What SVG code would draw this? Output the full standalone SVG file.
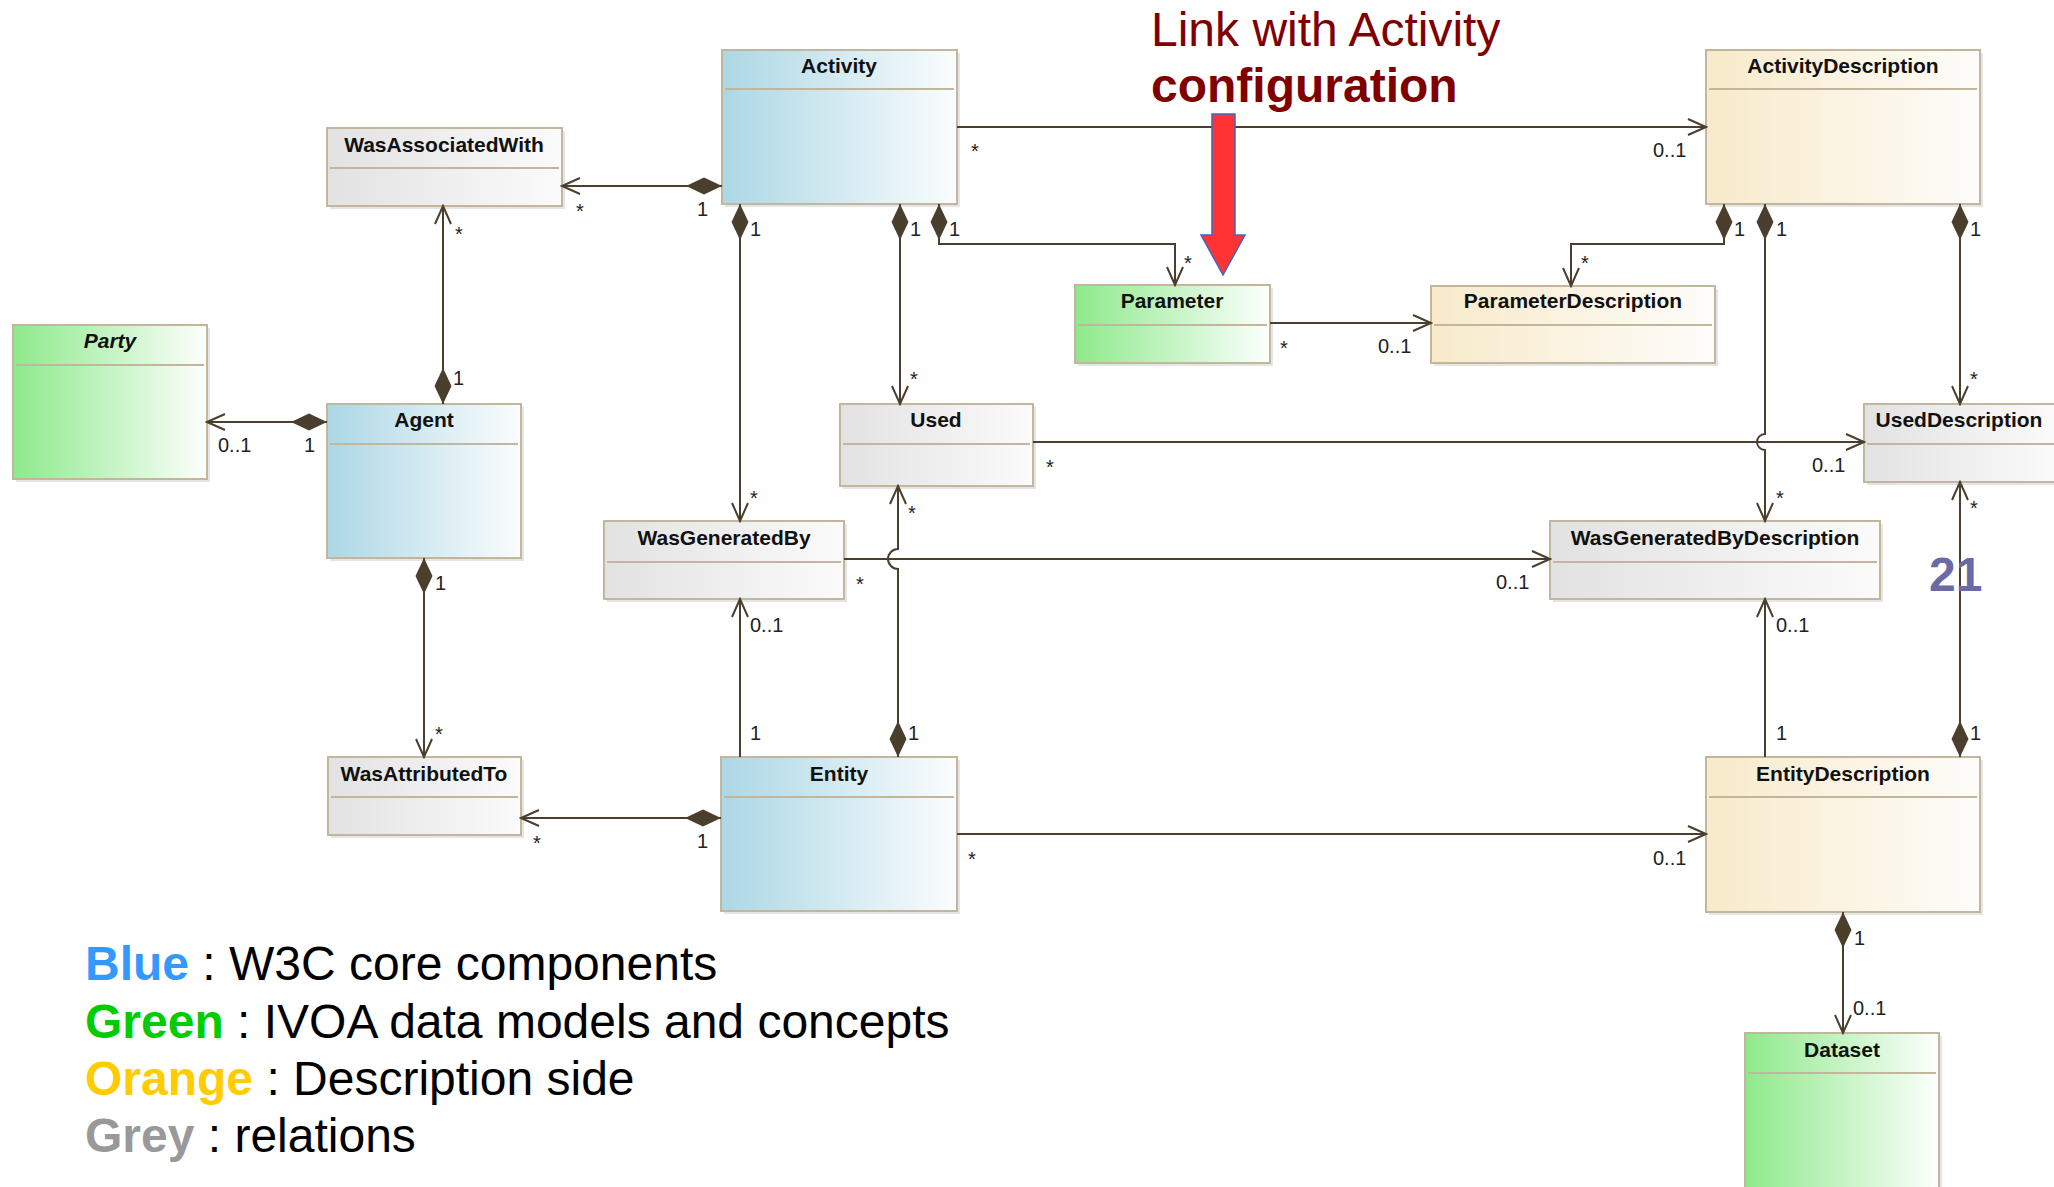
<svg xmlns="http://www.w3.org/2000/svg" width="2054" height="1187" viewBox="0 0 2054 1187">
  <defs>
    <linearGradient id="gBlue" x1="0" y1="0" x2="1" y2="0">
      <stop offset="0" stop-color="#acd7e5"/>
      <stop offset="1" stop-color="#fbfdfe"/>
    </linearGradient>
    <linearGradient id="gGreen" x1="0" y1="0" x2="1" y2="0">
      <stop offset="0" stop-color="#8ee98b"/>
      <stop offset="1" stop-color="#fdfffd"/>
    </linearGradient>
    <linearGradient id="gCream" x1="0" y1="0" x2="1" y2="0">
      <stop offset="0" stop-color="#f8eaca"/>
      <stop offset="1" stop-color="#fefdfb"/>
    </linearGradient>
    <linearGradient id="gGrey" x1="0" y1="0" x2="1" y2="0">
      <stop offset="0" stop-color="#e2e2e2"/>
      <stop offset="1" stop-color="#fbfbfb"/>
    </linearGradient>
    <marker id="arrow" viewBox="-20 -10 22 20" markerWidth="22" markerHeight="20" refX="0" refY="0" orient="auto" markerUnits="userSpaceOnUse">
      <path d="M-18,-8 L0,0 L-18,8" fill="none" stroke="#4a3f2c" stroke-width="2"/>
    </marker>
    <marker id="diamond" viewBox="0 -10 38 20" markerWidth="38" markerHeight="20" refX="0" refY="0" orient="auto" markerUnits="userSpaceOnUse">
      <path d="M0,0 L18,-8.5 L36,0 L18,8.5 Z" fill="#4a3f2c"/>
    </marker>
    <style>
      .box { stroke: #c2b69c; stroke-width: 2; }
      .shadow { fill: #000; opacity: 0.10; }
      .div { stroke: #c2b69c; stroke-width: 2; }
      .title { font-family: "Liberation Sans", Arial, sans-serif; font-weight: bold; font-size: 21px; text-anchor: middle; fill: #111; }
      .conn { stroke: #4a3f2c; stroke-width: 2; fill: none; }
      .arr { marker-end: url(#arrow); }
      .comp { marker-start: url(#diamond); }
      .mult { font-family: "Liberation Sans", Arial, sans-serif; font-size: 20px; fill: #222; }
      .legend { font-family: "Liberation Sans", Arial, sans-serif; font-size: 48px; fill: #000; }
    </style>
  </defs>

  <rect width="2054" height="1187" fill="#ffffff"/>

  <!-- classes -->
  <g id="Activity">
    <rect class="shadow" x="725" y="53" width="235" height="154"/>
    <rect class="box" x="722" y="50" width="235" height="154" fill="url(#gBlue)"/>
    <line class="div" x1="725" y1="89" x2="954" y2="89"/>
    <text class="title" x="839" y="73">Activity</text>
  </g>
  <g id="WasAssociatedWith">
    <rect class="shadow" x="330" y="131" width="235" height="78"/>
    <rect class="box" x="327" y="128" width="235" height="78" fill="url(#gGrey)"/>
    <line class="div" x1="330" y1="168" x2="559" y2="168"/>
    <text class="title" x="444" y="152">WasAssociatedWith</text>
  </g>
  <g id="Party">
    <rect class="shadow" x="16" y="328" width="194" height="154"/>
    <rect class="box" x="13" y="325" width="194" height="154" fill="url(#gGreen)"/>
    <line class="div" x1="16" y1="365" x2="204" y2="365"/>
    <text class="title" x="110" y="348" font-style="italic">Party</text>
  </g>
  <g id="Agent">
    <rect class="shadow" x="330" y="407" width="194" height="154"/>
    <rect class="box" x="327" y="404" width="194" height="154" fill="url(#gBlue)"/>
    <line class="div" x1="330" y1="444" x2="518" y2="444"/>
    <text class="title" x="424" y="427">Agent</text>
  </g>
  <g id="WasAttributedTo">
    <rect class="shadow" x="331" y="760" width="193" height="78"/>
    <rect class="box" x="328" y="757" width="193" height="78" fill="url(#gGrey)"/>
    <line class="div" x1="331" y1="797" x2="518" y2="797"/>
    <text class="title" x="424" y="781">WasAttributedTo</text>
  </g>
  <g id="Entity">
    <rect class="shadow" x="724" y="760" width="236" height="154"/>
    <rect class="box" x="721" y="757" width="236" height="154" fill="url(#gBlue)"/>
    <line class="div" x1="724" y1="797" x2="954" y2="797"/>
    <text class="title" x="839" y="781">Entity</text>
  </g>
  <g id="Used">
    <rect class="shadow" x="843" y="407" width="193" height="82"/>
    <rect class="box" x="840" y="404" width="193" height="82" fill="url(#gGrey)"/>
    <line class="div" x1="843" y1="444" x2="1030" y2="444"/>
    <text class="title" x="936" y="427">Used</text>
  </g>
  <g id="WasGeneratedBy">
    <rect class="shadow" x="607" y="524" width="240" height="78"/>
    <rect class="box" x="604" y="521" width="240" height="78" fill="url(#gGrey)"/>
    <line class="div" x1="607" y1="562" x2="841" y2="562"/>
    <text class="title" x="724" y="545">WasGeneratedBy</text>
  </g>
  <g id="Parameter">
    <rect class="shadow" x="1078" y="288" width="195" height="78"/>
    <rect class="box" x="1075" y="285" width="195" height="78" fill="url(#gGreen)"/>
    <line class="div" x1="1078" y1="325" x2="1267" y2="325"/>
    <text class="title" x="1172" y="308">Parameter</text>
  </g>
  <g id="ParameterDescription">
    <rect class="shadow" x="1434" y="289" width="284" height="77"/>
    <rect class="box" x="1431" y="286" width="284" height="77" fill="url(#gCream)"/>
    <line class="div" x1="1434" y1="325" x2="1712" y2="325"/>
    <text class="title" x="1573" y="308">ParameterDescription</text>
  </g>
  <g id="ActivityDescription">
    <rect class="shadow" x="1709" y="53" width="274" height="154"/>
    <rect class="box" x="1706" y="50" width="274" height="154" fill="url(#gCream)"/>
    <line class="div" x1="1709" y1="89" x2="1977" y2="89"/>
    <text class="title" x="1843" y="73">ActivityDescription</text>
  </g>
  <g id="UsedDescription">
    <rect class="shadow" x="1867" y="407" width="194" height="78"/>
    <rect class="box" x="1864" y="404" width="194" height="78" fill="url(#gGrey)"/>
    <line class="div" x1="1867" y1="444" x2="2055" y2="444"/>
    <text class="title" x="1959" y="427">UsedDescription</text>
  </g>
  <g id="WasGeneratedByDescription">
    <rect class="shadow" x="1553" y="524" width="330" height="78"/>
    <rect class="box" x="1550" y="521" width="330" height="78" fill="url(#gGrey)"/>
    <line class="div" x1="1553" y1="562" x2="1877" y2="562"/>
    <text class="title" x="1715" y="545">WasGeneratedByDescription</text>
  </g>
  <g id="EntityDescription">
    <rect class="shadow" x="1709" y="760" width="274" height="155"/>
    <rect class="box" x="1706" y="757" width="274" height="155" fill="url(#gCream)"/>
    <line class="div" x1="1709" y1="797" x2="1977" y2="797"/>
    <text class="title" x="1843" y="781">EntityDescription</text>
  </g>
  <g id="Dataset">
    <rect class="shadow" x="1748" y="1036" width="194" height="170"/>
    <rect class="box" x="1745" y="1033" width="194" height="170" fill="url(#gGreen)"/>
    <line class="div" x1="1748" y1="1073" x2="1936" y2="1073"/>
    <text class="title" x="1842" y="1057">Dataset</text>
  </g>

  <!-- associations -->
  <g id="connectors">
    <path class="conn comp arr" d="M722,186 H562"/>
    <path class="conn comp arr" d="M443,404 V206"/>
    <path class="conn comp arr" d="M327,422 H207"/>
    <path class="conn arr" d="M957,127 H1706"/>
    <path class="conn comp arr" d="M740,204 V521"/>
    <path class="conn comp arr" d="M900,204 V404"/>
    <path class="conn comp arr" d="M939,204 V244 H1175 V285"/>
    <path class="conn arr" d="M1270,323 H1431"/>
    <path class="conn comp arr" d="M1724,204 V244 H1571 V286"/>
    <path class="conn comp arr" d="M1765,204 V434 A8,8 0 0 0 1765,450 V521"/>
    <path class="conn comp arr" d="M1960,204 V404"/>
    <path class="conn arr" d="M1033,442 H1864"/>
    <path class="conn arr" d="M844,559 H1550"/>
    <path class="conn comp arr" d="M898,757 V569 A10,10 0 0 1 898,549 V486"/>
    <path class="conn arr" d="M740,757 V599"/>
    <path class="conn comp arr" d="M721,818 H521"/>
    <path class="conn comp arr" d="M424,558 V757"/>
    <path class="conn arr" d="M957,834 H1706"/>
    <path class="conn arr" d="M1765,757 V599"/>
    <path class="conn comp arr" d="M1960,757 V482"/>
    <path class="conn comp arr" d="M1843,912 V1033"/>
  </g>

  <!-- multiplicities -->
  <g id="multiplicities" class="mult">
    <text x="576" y="218">*</text>
    <text x="697" y="216">1</text>
    <text x="455" y="241">*</text>
    <text x="453" y="385">1</text>
    <text x="218" y="452">0..1</text>
    <text x="304" y="452">1</text>
    <text x="971" y="158">*</text>
    <text x="1653" y="157">0..1</text>
    <text x="750" y="236">1</text>
    <text x="750" y="505">*</text>
    <text x="910" y="236">1</text>
    <text x="910" y="386">*</text>
    <text x="949" y="236">1</text>
    <text x="1184" y="270">*</text>
    <text x="1280" y="355">*</text>
    <text x="1378" y="353">0..1</text>
    <text x="1734" y="236">1</text>
    <text x="1581" y="270">*</text>
    <text x="1776" y="236">1</text>
    <text x="1776" y="505">*</text>
    <text x="1970" y="236">1</text>
    <text x="1970" y="386">*</text>
    <text x="1046" y="474">*</text>
    <text x="1812" y="472">0..1</text>
    <text x="856" y="591">*</text>
    <text x="1496" y="589">0..1</text>
    <text x="908" y="520">*</text>
    <text x="908" y="740">1</text>
    <text x="750" y="632">0..1</text>
    <text x="750" y="740">1</text>
    <text x="533" y="850">*</text>
    <text x="697" y="848">1</text>
    <text x="435" y="590">1</text>
    <text x="435" y="741">*</text>
    <text x="968" y="866">*</text>
    <text x="1653" y="865">0..1</text>
    <text x="1776" y="632">0..1</text>
    <text x="1776" y="740">1</text>
    <text x="1970" y="515">*</text>
    <text x="1970" y="740">1</text>
    <text x="1854" y="945">1</text>
    <text x="1853" y="1015">0..1</text>
  </g>

  <!-- page number -->
  <text x="1929" y="591" font-family="Liberation Sans, Arial, sans-serif" font-weight="bold" font-size="48" fill="#6a6aa6">21</text>

  <!-- callout -->
  <g id="callout">
    <text x="1151" y="46" font-family="Liberation Sans, Arial, sans-serif" font-size="48" fill="#800000">Link with Activity</text>
    <text x="1151" y="102" font-family="Liberation Sans, Arial, sans-serif" font-weight="bold" font-size="48" fill="#800000">configuration</text>
    <path d="M1212,114 H1235 V235 H1245 L1223,275 L1201,235 H1212 Z" fill="#ff3333" stroke="#3f66c0" stroke-width="1.5"/>
  </g>

  <!-- colour legend -->
  <g id="legend" class="legend">
    <text x="85" y="980"><tspan fill="#3399ff" font-weight="bold">Blue</tspan> : W3C core components</text>
    <text x="85" y="1038"><tspan fill="#00cc00" font-weight="bold">Green</tspan> : IVOA data models and concepts</text>
    <text x="85" y="1095"><tspan fill="#ffcc00" font-weight="bold">Orange</tspan> : Description side</text>
    <text x="85" y="1152"><tspan fill="#999999" font-weight="bold">Grey</tspan> : relations</text>
  </g>
</svg>
